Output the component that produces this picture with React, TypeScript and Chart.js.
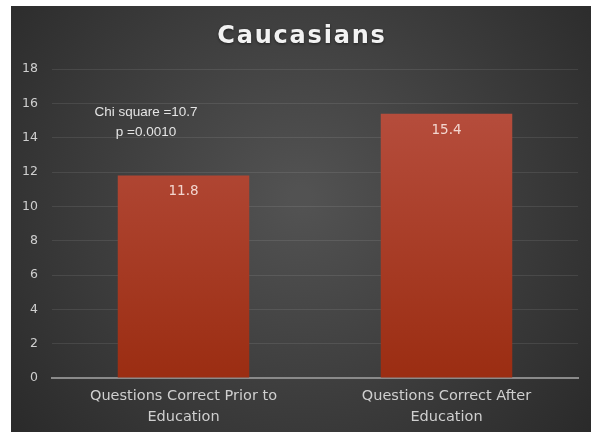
import React, { useEffect, useRef } from "react";
import { Chart, registerables } from "chart.js";

Chart.register(...registerables);

const titleText = "Caucasians";
const categories: string[][] = [
  ["Questions Correct Prior to", "Education"],
  ["Questions Correct After", "Education"],
];
const scores: number[] = [11.8, 15.4];
const annotationLines: string[] = ["Chi square =10.7", "p =0.0010"];
const annotationValues: number[] = [15.45, 14.3];
const yMax = 18;
const yStep = 2;

export default function App() {
  const ref = useRef<HTMLCanvasElement | null>(null);

  useEffect(() => {
    const canvas = ref.current;
    if (!canvas) return;
    const ctx = canvas.getContext("2d")!;

    const bgPlugin = {
      id: "bg",
      beforeDraw(chart: any) {
        const c = chart.ctx;
        const w = chart.width;
        const h = chart.height;
        c.save();
        const g = c.createRadialGradient(w * 0.5, h * 0.45, 10, w * 0.5, h * 0.45, Math.max(w, h) * 0.72);
        g.addColorStop(0, "#525252");
        g.addColorStop(1, "#252525");
        c.fillStyle = g;
        c.fillRect(0, 0, w, h);
        // title
        c.fillStyle = "#f2f2f2";
        c.font = "bold 24px 'DejaVu Sans'";
        (c as any).letterSpacing = "1.8px";
        c.textAlign = "center";
        c.textBaseline = "middle";
        c.shadowColor = "rgba(0,0,0,0.5)";
        c.shadowBlur = 3;
        c.shadowOffsetY = 1;
        c.fillText(titleText, w * 0.5 + 1, 31);
        c.restore();
      },
    };

    const labelPlugin = {
      id: "labels",
      afterDatasetsDraw(chart: any) {
        const c = chart.ctx;
        const meta = chart.getDatasetMeta(0);
        const xs = chart.scales.x;
        const ys = chart.scales.y;
        c.save();
        c.font = "13.5px 'DejaVu Sans'";
        c.fillStyle = "#f3d6cf";
        c.textAlign = "center";
        c.textBaseline = "middle";
        meta.data.forEach((bar: any, i: number) => {
          c.fillText(String(scores[i]), bar.x, bar.y + 16.5);
        });
        c.font = "13.5px 'Liberation Sans'";
        c.fillStyle = "#e4e4e4";
        const ax = xs.getPixelForValue(0) - 37.5;
        annotationLines.forEach((t, i) => {
          c.fillText(t, ax, ys.getPixelForValue(annotationValues[i]));
        });
        c.restore();
      },
    };

    const chart = new Chart(ctx, {
      type: "bar",
      data: {
        labels: categories,
        datasets: [
          {
            data: scores,
            backgroundColor: (context: any) => {
              const ca = context.chart.chartArea;
              if (!ca) return "#a83c28";
              const g = context.chart.ctx.createLinearGradient(0, ca.top, 0, ca.bottom);
              g.addColorStop(0, "#ba5243");
              g.addColorStop(1, "#9b2d12");
              return g;
            },
            borderWidth: 0,
            categoryPercentage: 1,
            barPercentage: 0.5,
          },
        ],
      },
      options: {
        animation: false,
        responsive: false,
        maintainAspectRatio: false,
        layout: { padding: { top: 63, right: 13, left: 0, bottom: 0 } },
        plugins: {
          legend: { display: false },
          title: { display: false },
          tooltip: { enabled: false },
        },
        scales: {
          x: {
            grid: { display: false, drawTicks: false },
            border: { display: true, color: "#8a8a8a", width: 2 },
            ticks: {
              color: "#cfcfcf",
              font: { family: "'DejaVu Sans'", size: 14.5, lineHeight: "21px" },
              padding: 8,
              maxRotation: 0,
              autoSkip: false,
            },
            afterFit(scale: any) {
              scale.height = 54;
            },
          },
          y: {
            min: 0,
            max: yMax,
            ticks: {
              stepSize: yStep,
              color: "#cfcfcf",
              font: { family: "'DejaVu Sans'", size: 12.5 },
              padding: 14,
            },
            grid: { color: "rgba(255,255,255,0.09)", drawTicks: false, lineWidth: 1 },
            border: { display: false },
            afterFit(scale: any) {
              scale.width = 41;
            },
          },
        },
      },
      plugins: [bgPlugin, labelPlugin],
    });

    return () => chart.destroy();
  }, []);

  return (
    <div style={{ position: "fixed", left: 0, top: 0, width: 591, height: 432, background: "#ffffff" }}>
      <canvas ref={ref} width={580} height={426} style={{ position: "absolute", left: 11, top: 6, width: 580, height: 426 }} />
    </div>
  );
}
